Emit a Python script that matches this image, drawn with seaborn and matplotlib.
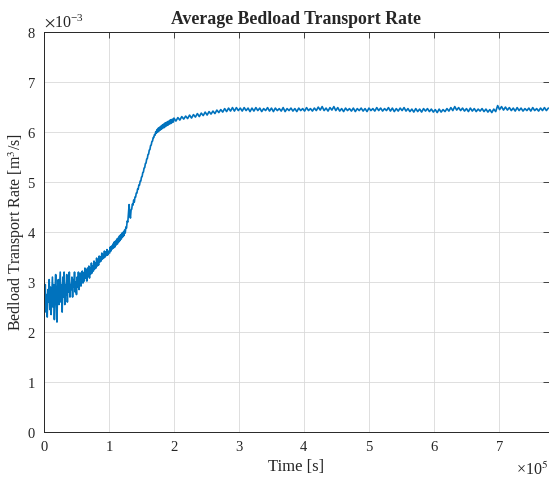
import numpy as np
import pandas as pd
import matplotlib
matplotlib.use("Agg")
import matplotlib.pyplot as plt
import seaborn as sns

# Bedload transport rate, units of 1e-3 m^3/s
# Segment A: t = 0 .. 1.00e5 s, every 1000 s
rate_a = [2.80, 2.55, 2.95, 2.40, 2.75, 2.30, 2.85, 2.60, 3.05, 2.45,
          2.90, 2.35, 2.70, 3.10, 2.50, 2.95, 2.25, 2.80, 3.15, 2.60,
          2.20, 2.90, 3.05, 2.55, 2.85, 3.20, 2.60, 2.95, 2.40, 3.10,
          2.70, 3.20, 2.55, 2.95, 2.75, 3.15, 2.60, 3.05, 2.80, 3.20,
          2.70, 2.95, 2.85, 3.10, 2.70, 3.05, 2.90, 3.20, 2.80, 3.00,
          2.75, 3.10, 2.90, 3.20, 2.85, 3.05, 3.18, 2.92, 3.12, 3.22,
          2.98, 3.18, 3.02, 3.28, 3.08, 3.24, 3.02, 3.28, 3.12, 3.32,
          3.08, 3.28, 3.16, 3.38, 3.18, 3.32, 3.22, 3.42, 3.26, 3.38,
          3.28, 3.48, 3.32, 3.44, 3.34, 3.52, 3.40, 3.50, 3.42, 3.58,
          3.46, 3.55, 3.48, 3.62, 3.50, 3.60, 3.53, 3.65, 3.54, 3.62,
          3.60]
# Segment B: t = 1.01e5 .. 2.00e5 s, every 1000 s
rate_b = [3.58, 3.70, 3.62, 3.72, 3.66, 3.76, 3.68, 3.80, 3.70, 3.82,
          3.74, 3.86, 3.76, 3.88, 3.80, 3.92, 3.83, 3.95, 3.86, 3.98,
          3.90, 4.00, 3.93, 4.04, 3.98, 4.10, 4.08, 4.22, 4.20, 4.38,
          4.55, 4.38, 4.28, 4.44, 4.46, 4.56, 4.54, 4.64, 4.60, 4.70,
          4.70, 4.78, 4.78, 4.86, 4.86, 4.94, 4.94, 5.02, 5.02, 5.10,
          5.11, 5.19, 5.20, 5.28, 5.29, 5.37, 5.38, 5.46, 5.47, 5.55,
          5.56, 5.64, 5.65, 5.73, 5.74, 5.81, 5.82, 5.89, 5.89, 5.95,
          5.94, 6.01, 5.98, 6.05, 6.00, 6.08, 6.02, 6.10, 6.04, 6.12,
          6.06, 6.14, 6.08, 6.16, 6.09, 6.18, 6.11, 6.19, 6.13, 6.21,
          6.14, 6.22, 6.16, 6.24, 6.17, 6.25, 6.19, 6.26, 6.20, 6.28]
# Segment C: t = 2.03e5 .. 7.76e5 s, every 3000 s
rate_c = [6.22, 6.29, 6.24, 6.31, 6.26, 6.32, 6.27, 6.34, 6.28, 6.35,
          6.30, 6.37, 6.31, 6.38, 6.33, 6.40, 6.34, 6.41, 6.36, 6.42,
          6.37, 6.44, 6.39, 6.45, 6.40, 6.47, 6.41, 6.48, 6.42, 6.49,
          6.42, 6.49, 6.43, 6.48, 6.42, 6.49, 6.43, 6.48, 6.41, 6.48,
          6.42, 6.49, 6.43, 6.48, 6.41, 6.47, 6.43, 6.49, 6.42, 6.48,
          6.41, 6.48, 6.43, 6.47, 6.42, 6.49, 6.41, 6.47, 6.43, 6.48,
          6.42, 6.47, 6.41, 6.48, 6.43, 6.47, 6.42, 6.49, 6.43, 6.47,
          6.42, 6.48, 6.43, 6.50, 6.44, 6.51, 6.43, 6.48, 6.42, 6.49,
          6.44, 6.51, 6.43, 6.49, 6.42, 6.47, 6.41, 6.48, 6.43, 6.47,
          6.42, 6.48, 6.41, 6.47, 6.43, 6.48, 6.42, 6.47, 6.41, 6.48,
          6.43, 6.47, 6.42, 6.49, 6.43, 6.48, 6.42, 6.47, 6.43, 6.49,
          6.42, 6.48, 6.41, 6.47, 6.42, 6.48, 6.43, 6.49, 6.42, 6.47,
          6.41, 6.46, 6.40, 6.47, 6.41, 6.46, 6.40, 6.47, 6.42, 6.47,
          6.41, 6.46, 6.40, 6.45, 6.39, 6.46, 6.40, 6.45, 6.41, 6.47,
          6.42, 6.49, 6.43, 6.51, 6.44, 6.49, 6.43, 6.48, 6.42, 6.47,
          6.41, 6.48, 6.42, 6.47, 6.41, 6.46, 6.42, 6.47, 6.41, 6.46,
          6.40, 6.45, 6.39, 6.46, 6.41, 6.53, 6.45, 6.51, 6.44, 6.50,
          6.44, 6.49, 6.43, 6.48, 6.42, 6.49, 6.43, 6.48, 6.42, 6.47,
          6.43, 6.48, 6.42, 6.49, 6.43, 6.47, 6.42, 6.48, 6.43, 6.49,
          6.43, 6.48]

time_a = 1000.0 * np.arange(len(rate_a))
time_b = 1.01e5 + 1000.0 * np.arange(len(rate_b))
time_c = 2.03e5 + 3000.0 * np.arange(len(rate_c))

df = pd.DataFrame({
    "time": np.concatenate([time_a, time_b, time_c]),
    "rate": np.concatenate([rate_a, rate_b, rate_c]) * 1e-3,
})

sns.set_style("white")
plt.rcParams["font.family"] = ["Liberation Serif", "DejaVu Serif"]
plt.rcParams["mathtext.fontset"] = "stix"

fig = plt.figure(figsize=(5.49, 4.79), dpi=100)
ax = fig.add_axes([0.0801, 0.098, 0.9199, 0.835])

sns.lineplot(data=df, x="time", y="rate", ax=ax, color="#0072BD",
             linewidth=1.2, estimator=None, sort=False)

ax.set_xlim(0, 7.77e5)
ax.set_ylim(0, 8e-3)
ax.set_xticks(np.arange(0, 8) * 1e5)
ax.set_yticks(np.arange(0, 9) * 1e-3)
ax.ticklabel_format(style="sci", scilimits=(0, 0), useMathText=True)
ax.yaxis.get_offset_text().set_fontsize(11.5)
ax.xaxis.get_offset_text().set_visible(False)
fig.text(0.999, 1 - 475 / 479, "×10$^{5}$", ha="right", va="baseline",
         fontsize=11.5, color="#262626")

ax.grid(True, color="#d9d9d9", linewidth=0.6)
ax.set_axisbelow(True)
for s in ax.spines.values():
    s.set_color("#262626")
    s.set_linewidth(0.7)
ax.tick_params(direction="in", top=True, right=True, length=4, width=0.6,
               labelsize=10.5, colors="#262626", pad=6)

ax.set_title("Average Bedload Transport Rate", fontsize=12.8, fontweight="bold", pad=6)
ax.set_xlabel("Time [s]", fontsize=12, labelpad=3)
ax.set_ylabel("Bedload Transport Rate [m$^3$/s]", fontsize=11.5)
ax.yaxis.set_label_coords(-0.034, 0.5)

fig.savefig("out.png", dpi=100)
